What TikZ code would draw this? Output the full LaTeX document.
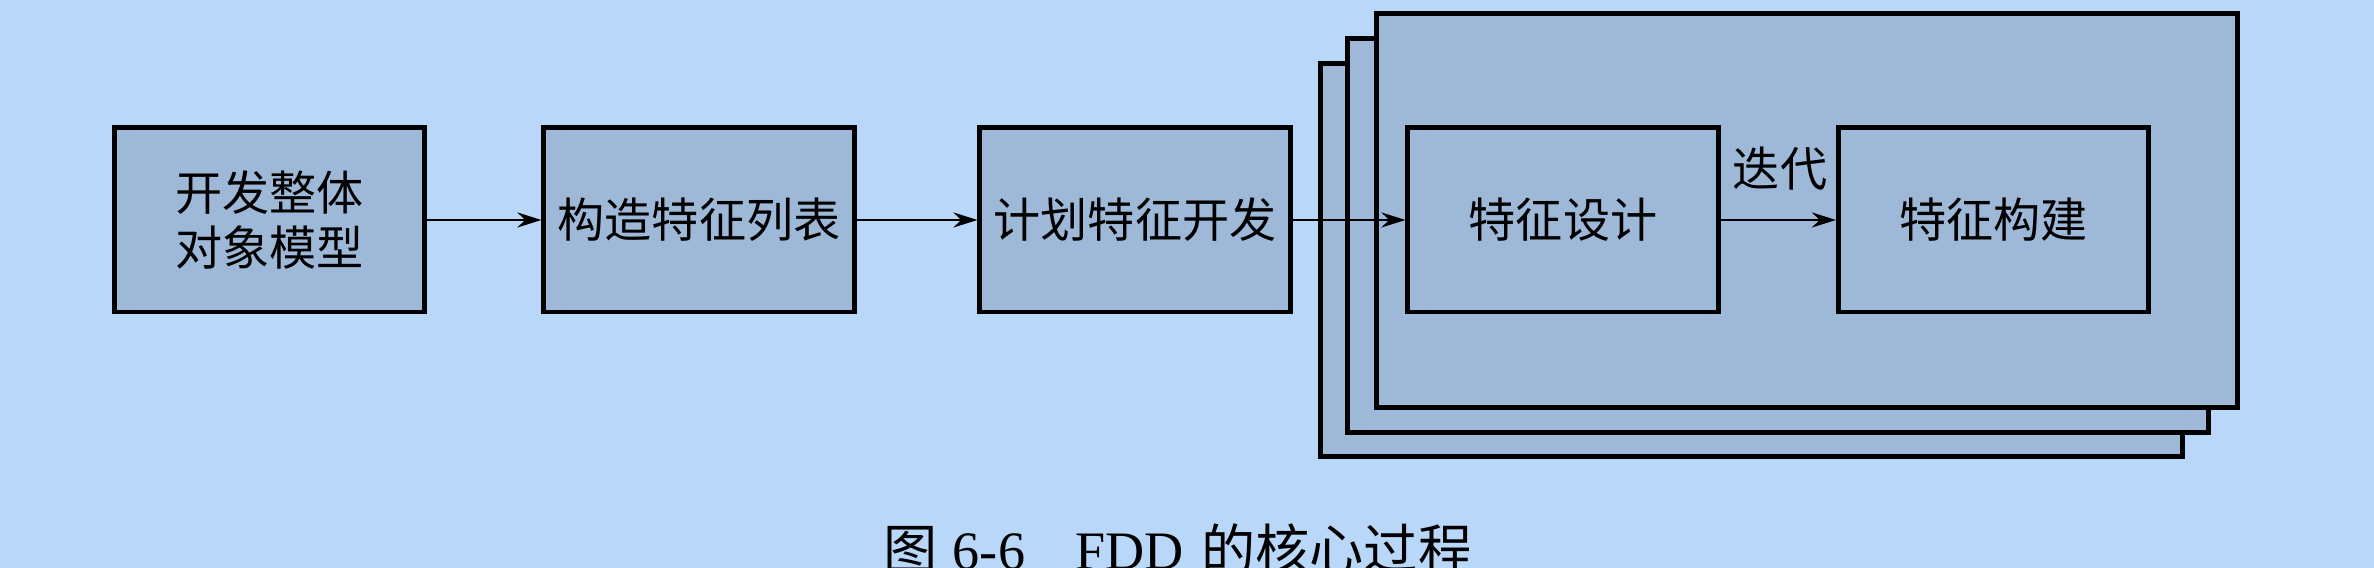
\documentclass[tikz,border=0pt]{standalone}
\usepackage{fontspec}
\setmainfont{Liberation Serif}
\newfontfamily\cjk{Noto Sans CJK SC}
\usetikzlibrary{arrows.meta}
\definecolor{bgblue}{RGB}{185,215,248}
\definecolor{boxfill}{RGB}{158,184,215}
\tikzset{
  procbox/.style={draw=black, line width=1.4pt, fill=boxfill, minimum width=3.1cm, minimum height=1.84cm, inner sep=0pt, align=center, font=\cjk\fontsize{13.4pt}{15.4pt}\selectfont},
  stackbox/.style={draw=black, line width=1.4pt, fill=boxfill, minimum width=8.61cm, minimum height=3.93cm, inner sep=0pt},
  flow/.style={draw=black, line width=0.75pt, -{Stealth[length=0.24cm, width=0.15cm]}},
  lbl/.style={font=\cjk\fontsize{13.4pt}{15.4pt}\selectfont, inner sep=0pt}
}
\begin{document}
\begin{tikzpicture}[x=0.01cm, y=-0.01cm]
\useasboundingbox[fill=bgblue] (0,0) rectangle (2374,568);
\node[procbox] (b1) at (269.5,220) {开发整体\\对象模型};
\node[procbox] (b2) at (699,220) {构造特征列表};
\node[procbox] (b3) at (1135,220) {计划特征开发};
\node[stackbox] (s3) at (1751.5,260) {};
\node[stackbox] (s2) at (1778,235.5) {};
\node[stackbox] (s1) at (1807,210.5) {};
\node[procbox] (d1) at (1563,220) {特征设计};
\node[procbox] (d2) at (1993.5,220) {特征构建};
\node[lbl] (it) at (1780,169) {迭代};
\draw[flow] (b1) -- (b2);
\draw[flow] (b2) -- (b3);
\draw[flow] (b3) -- (d1);
\draw[flow] (d1) -- (d2);
\node[anchor=base, inner sep=0pt, font=\fontsize{15.4pt}{18pt}\selectfont] (cap) at (1178,570) {{\cjk 图}\hspace{0.15cm}6-6\hspace{0.5cm}FDD\hspace{0.18cm}{\cjk 的核心过程}};
\end{tikzpicture}
\end{document}
